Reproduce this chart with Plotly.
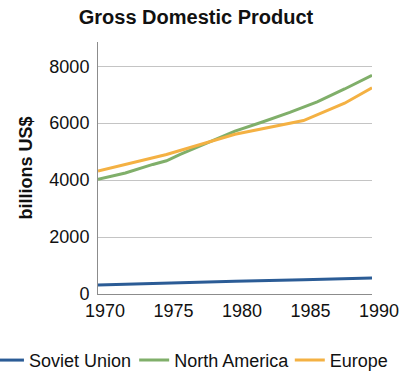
import plotly.graph_objects as go

na_years = [1970, 1972, 1974, 1975, 1976, 1978, 1980, 1982, 1984, 1986, 1988, 1990]
na_vals = [4030, 4250, 4550, 4680, 4900, 5300, 5720, 6040, 6380, 6750, 7200, 7680]

eu_years = [1970, 1975, 1980, 1984, 1985, 1988, 1990]
eu_vals = [4320, 4900, 5610, 6000, 6090, 6700, 7240]

su_years = [1970, 1975, 1980, 1985, 1990]
su_vals = [320, 390, 450, 500, 560]

x_ticks = [1970, 1975, 1980, 1985, 1990]
y_ticks = [0, 2000, 4000, 6000, 8000]

FONT = "Liberation Sans, Arial, sans-serif"

fig = go.Figure()
fig.add_trace(go.Scatter(x=su_years, y=su_vals, mode="lines", name="Soviet Union",
                         line=dict(color="#2b5c96", width=3), legend="legend"))
fig.add_trace(go.Scatter(x=na_years, y=na_vals, mode="lines", name="North America",
                         line=dict(color="#80af6a", width=3), legend="legend2"))
fig.add_trace(go.Scatter(x=eu_years, y=eu_vals, mode="lines", name="Europe",
                         line=dict(color="#f4b143", width=3), legend="legend3"))

leg_common = dict(orientation="h", xanchor="left", y=-0.19, yanchor="top",
                  font=dict(size=18, color="#111"), itemwidth=30,
                  bgcolor="rgba(0,0,0,0)")

fig.update_layout(
    width=400, height=380,
    margin=dict(l=98, r=28, t=42, b=86, autoexpand=False),
    paper_bgcolor="white", plot_bgcolor="white",
    font=dict(family=FONT, size=18, color="#111"),
    title=dict(text="<b>Gross Domestic Product</b>", x=0.49, xanchor="center",
               y=1 - 17 / 380, yanchor="middle", font=dict(size=20, color="#111")),
    showlegend=True,
    legend=dict(x=-0.398, **leg_common),
    legend2=dict(x=0.132, **leg_common),
    legend3=dict(x=0.70, **leg_common),
)
fig.update_xaxes(range=[1970, 1990], tickvals=x_ticks, ticktext=[str(v) for v in x_ticks],
                 showgrid=False, showline=True, linecolor="#8c8c8c", linewidth=1,
                 ticks="", zeroline=False, ticklabelstandoff=0, ticklabelshift=7,
                 automargin=False)
fig.update_yaxes(range=[0, 8850], tickvals=y_ticks, showgrid=True, gridcolor="#c4c4c4",
                 gridwidth=1, showline=True, linecolor="#8c8c8c", linewidth=1,
                 zeroline=True, zerolinecolor="#8c8c8c", ticks="", ticklabelstandoff=4,
                 automargin=False,
                 title=dict(text="<b>billions US$</b>", font=dict(size=18, color="#111"), standoff=12))

fig.write_html("out.html", config={"displayModeBar": False},
               post_script="document.body.style.margin='0px';")
